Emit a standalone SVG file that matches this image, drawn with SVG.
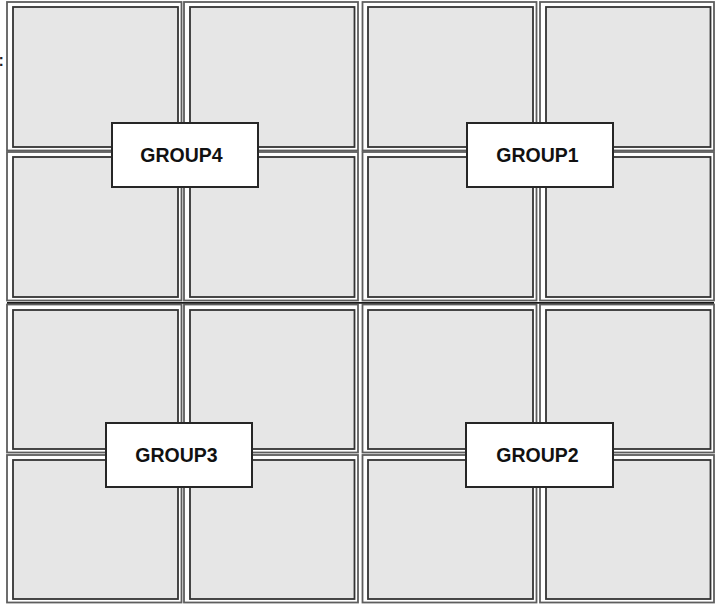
<svg xmlns="http://www.w3.org/2000/svg" width="723" height="604" viewBox="0 0 723 604">
  <style>
    .outer { fill: none; stroke: #5e5e5e; stroke-width: 1.8; }
    .inner { fill: #e6e6e6; stroke: #333333; stroke-width: 1.8; }
    .lbl { fill: #ffffff; stroke: #262626; stroke-width: 2; }
    .txt { font-family: "Liberation Sans", Arial, sans-serif; font-weight: bold; font-size: 19.5px; fill: #111; text-anchor: middle; }
    .sep { stroke: #1a1a1a; stroke-width: 1.8; }
  </style>
  <rect width="723" height="604" fill="#ffffff"/>
  <text x="-1.5" y="66" style="font-family: 'Liberation Sans', Arial, sans-serif; font-weight: bold; font-size: 16px; fill: #222;">:</text>
  <g id="panels">
    <g id="q4">
      <g id="p-r1c1"><rect class="outer" x="7" y="2" width="174.5" height="148.5"/><rect class="inner" x="13" y="7" width="165" height="140"/></g>
      <g id="p-r1c2"><rect class="outer" x="184" y="2" width="174" height="148.5"/><rect class="inner" x="190" y="7" width="164.5" height="140"/></g>
      <g id="p-r2c1"><rect class="outer" x="7" y="152" width="174.5" height="148.5"/><rect class="inner" x="13" y="157" width="165" height="140"/></g>
      <g id="p-r2c2"><rect class="outer" x="184" y="152" width="174" height="148.5"/><rect class="inner" x="190" y="157" width="164.5" height="140"/></g>
    </g>
    <g id="q1">
      <g id="p-r1c3"><rect class="outer" x="362.5" y="2" width="174" height="148.5"/><rect class="inner" x="368" y="7" width="165" height="140"/></g>
      <g id="p-r1c4"><rect class="outer" x="540" y="2" width="174" height="148.5"/><rect class="inner" x="546" y="7" width="164.5" height="140"/></g>
      <g id="p-r2c3"><rect class="outer" x="362.5" y="152" width="174" height="148.5"/><rect class="inner" x="368" y="157" width="165" height="140"/></g>
      <g id="p-r2c4"><rect class="outer" x="540" y="152" width="174" height="148.5"/><rect class="inner" x="546" y="157" width="164.5" height="140"/></g>
    </g>
    <g id="q3">
      <g id="p-r3c1"><rect class="outer" x="7" y="304.5" width="174.5" height="148"/><rect class="inner" x="13" y="310" width="165" height="139"/></g>
      <g id="p-r3c2"><rect class="outer" x="184" y="304.5" width="174" height="148"/><rect class="inner" x="190" y="310" width="164.5" height="139"/></g>
      <g id="p-r4c1"><rect class="outer" x="7" y="455" width="174.5" height="147.5"/><rect class="inner" x="13" y="460" width="165" height="139"/></g>
      <g id="p-r4c2"><rect class="outer" x="184" y="455" width="174" height="147.5"/><rect class="inner" x="190" y="460" width="164.5" height="139"/></g>
    </g>
    <g id="q2">
      <g id="p-r3c3"><rect class="outer" x="362.5" y="304.5" width="174" height="148"/><rect class="inner" x="368" y="310" width="165" height="139"/></g>
      <g id="p-r3c4"><rect class="outer" x="540" y="304.5" width="174" height="148"/><rect class="inner" x="546" y="310" width="164.5" height="139"/></g>
      <g id="p-r4c3"><rect class="outer" x="362.5" y="455" width="174" height="147.5"/><rect class="inner" x="368" y="460" width="165" height="139"/></g>
      <g id="p-r4c4"><rect class="outer" x="540" y="455" width="174" height="147.5"/><rect class="inner" x="546" y="460" width="164.5" height="139"/></g>
    </g>
    <line class="sep" x1="7" y1="302.8" x2="714" y2="302.8"/>
  </g>
  <g id="connectors"/>
  <g id="GROUP4"><rect class="lbl" x="112" y="123" width="146" height="64"/><text class="txt" x="181.5" y="162">GROUP4</text></g>
  <g id="GROUP1"><rect class="lbl" x="467" y="123" width="146" height="64"/><text class="txt" x="537.5" y="162">GROUP1</text></g>
  <g id="GROUP3"><rect class="lbl" x="106" y="423" width="146" height="64"/><text class="txt" x="176.5" y="462">GROUP3</text></g>
  <g id="GROUP2"><rect class="lbl" x="466" y="423" width="147" height="64"/><text class="txt" x="537.5" y="462">GROUP2</text></g>
</svg>
